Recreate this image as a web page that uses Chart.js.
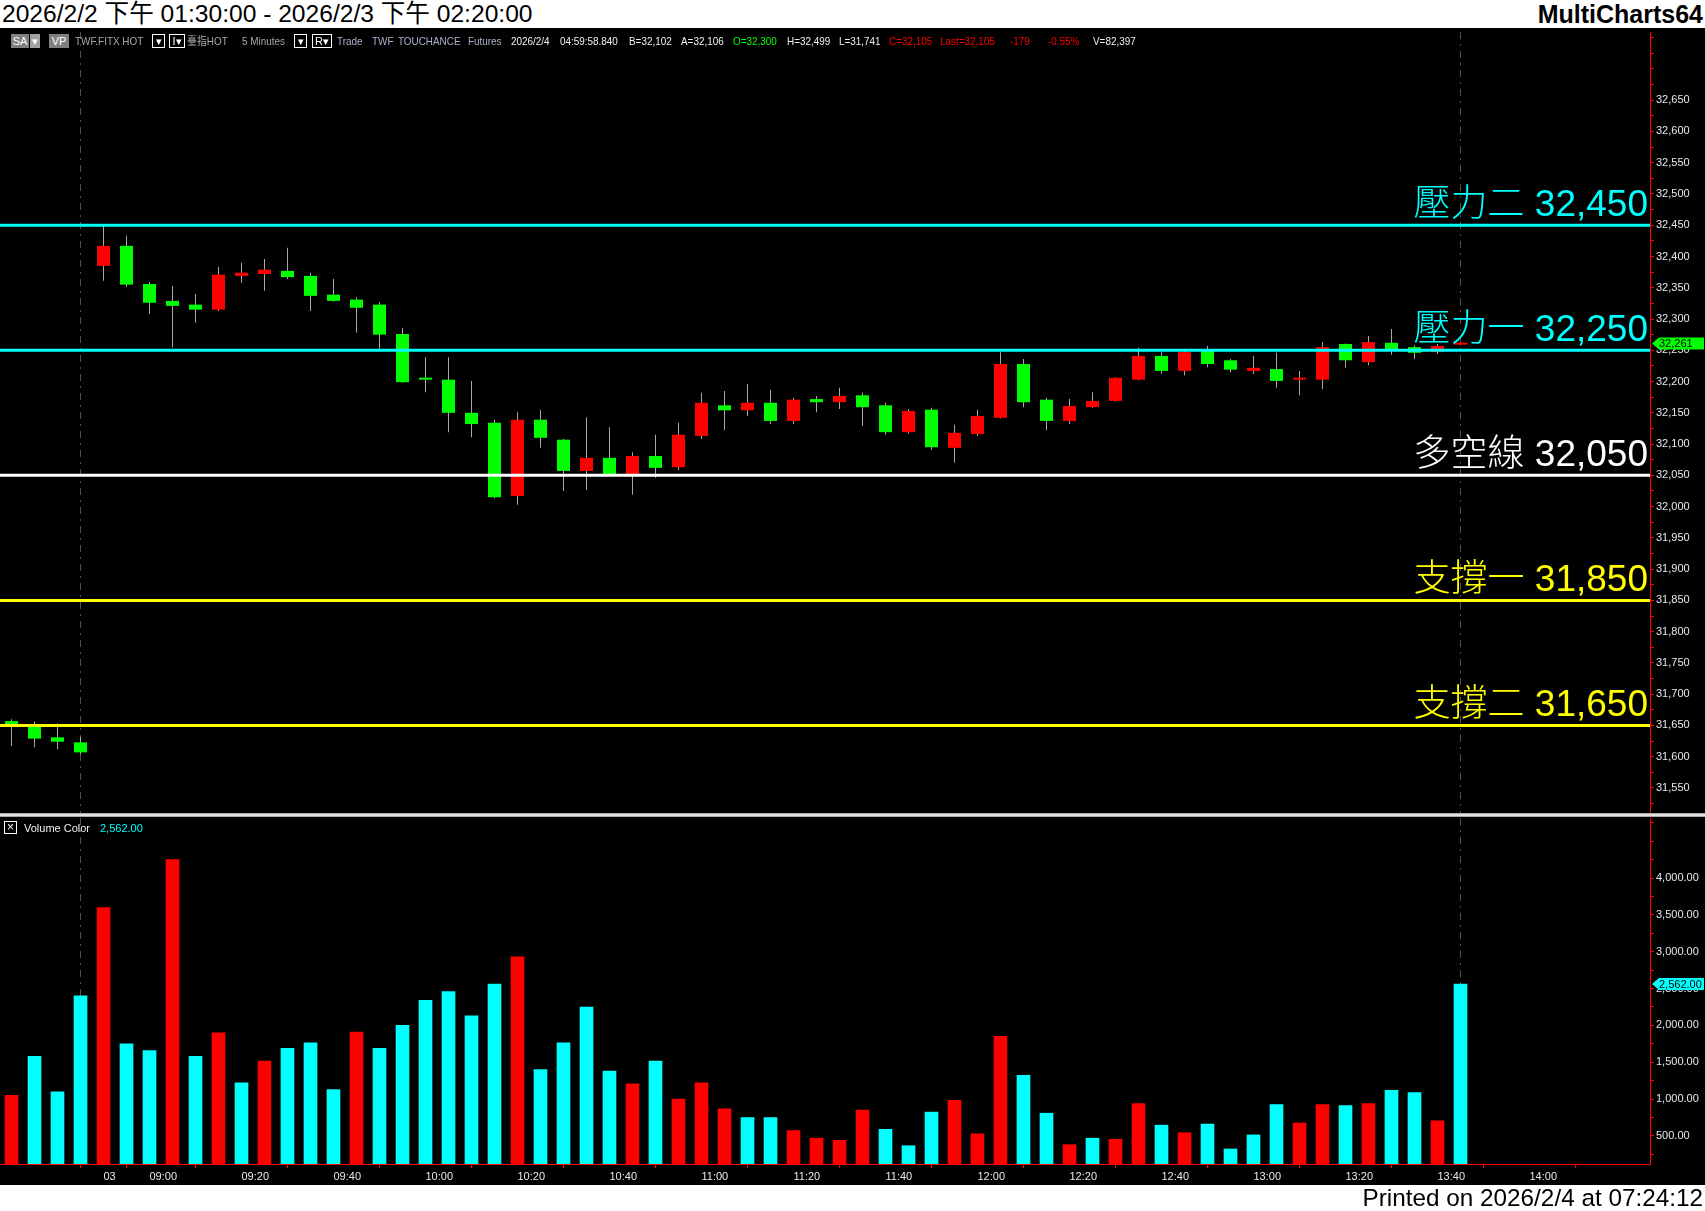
<!DOCTYPE html>
<html><head><meta charset="utf-8">
<script src="https://cdn.jsdelivr.net/npm/chart.js@4.4.1/dist/chart.umd.min.js"></script>
<style>
html,body{margin:0;padding:0;background:#fff;width:1705px;height:1211px;overflow:hidden;position:relative;font-family:"Liberation Sans",Arial,"Noto Sans CJK TC",sans-serif;}
#title{position:absolute;left:2px;top:0;font-size:24.6px;line-height:28px;color:#000;white-space:nowrap;}
#brand{position:absolute;right:2px;top:0;font-size:25px;font-weight:bold;line-height:28px;color:#000;}
#black{position:absolute;left:0;top:28px;width:1705px;height:1157px;background:#000;}
canvas{position:absolute;left:0;}
#sep{position:absolute;left:0;top:813px;width:1705px;height:4px;background:linear-gradient(#8a8a8a,#ffffff,#8a8a8a);z-index:5;}
#footer{position:absolute;right:2px;top:1185px;font-size:24.3px;line-height:26px;color:#000;white-space:nowrap;}
.tb{position:absolute;top:34px;height:14px;line-height:14px;font-size:11px;white-space:nowrap;z-index:6;}
.t{transform:scaleX(0.9);transform-origin:left center;}
.gbox{background:#808080;color:#fff;text-align:center;}
.wbox{border:1px solid #fff;height:12px;line-height:12px;color:#fff;text-align:center;box-sizing:content-box;}
.g{color:#a8a8a8}.b{color:#aab4cc}.w{color:#f0f0f0}.gr{color:#00ff00}.r{color:#ff0000}.c{color:#00ffff}
</style></head>
<body>
<div id="title">2026/2/2 下午 01:30:00 - 2026/2/3 下午 02:20:00</div>
<div id="brand">MultiCharts64</div>
<div id="black"></div>
<canvas id="c1" width="1705" height="788" style="top:28px;width:1705px;height:788px"></canvas>
<canvas id="c2" width="1705" height="369" style="top:816px;width:1705px;height:369px"></canvas>
<div id="sep"></div>
<div class="tb gbox" style="left:11px;width:18px">SA</div>
<div class="tb gbox" style="left:30px;width:10px;background:#a0a0a0">▾</div>
<div class="tb gbox" style="left:49px;width:20px">VP</div>
<div class="tb t g" style="left:75px">TWF.FITX HOT</div>
<div class="tb wbox" style="left:152px;width:11px">▾</div>
<div class="tb wbox" style="left:169px;width:14px">I▾</div>
<div class="tb t g" style="left:187px">臺指HOT</div>
<div class="tb t g" style="left:242px">5 Minutes</div>
<div class="tb wbox" style="left:294px;width:11px">▾</div>
<div class="tb wbox" style="left:312px;width:18px">R▾</div>
<div class="tb t b" style="left:337px">Trade</div>
<div class="tb t b" style="left:372px">TWF</div>
<div class="tb t b" style="left:398px">TOUCHANCE</div>
<div class="tb t b" style="left:468px">Futures</div>
<div class="tb t w" style="left:511px">2026/2/4</div>
<div class="tb t w" style="left:560px">04:59:58.840</div>
<div class="tb t w" style="left:629px">B=32,102</div>
<div class="tb t w" style="left:681px">A=32,106</div>
<div class="tb t gr" style="left:733px">O=32,300</div>
<div class="tb t w" style="left:787px">H=32,499</div>
<div class="tb t w" style="left:839px">L=31,741</div>
<div class="tb t r" style="left:889px">C=32,105</div>
<div class="tb t r" style="left:940px">Last=32,105</div>
<div class="tb t r" style="left:1010px">-179</div>
<div class="tb t r" style="left:1048px">-0.55%</div>
<div class="tb t w" style="left:1093px">V=82,397</div>
<div class="tb wbox" style="left:4px;top:821px;width:11px;height:11px;line-height:11px;font-size:12px">×</div>
<div class="tb w" style="left:24px;top:821px">Volume Color</div>
<div class="tb c" style="left:100px;top:821px">2,562.00</div>
<div id="footer">Printed on 2026/2/4 at 07:24:12</div>
<script>
// ---- data ----
const opens  = [31657,31648,31631,31623,32385,32417,32356,32329,32323,32315,32369,32372,32377,32369,32339,32331,32323,32276,32206,32203,32150,32134,32017,32139,32107,32057,32078,32052,32081,32063,32113,32162,32154,32166,32137,32172,32167,32178,32162,32119,32155,32094,32116,32142,32228,32171,32137,32159,32169,32203,32241,32217,32249,32234,32217,32220,32203,32203,32260,32231,32262,32255,32247,32259];
const highs  = [31660,31656,31653,31632,32450,32433,32359,32353,32340,32383,32390,32396,32414,32374,32364,32335,32327,32286,32239,32239,32201,32139,32151,32155,32108,32143,32127,32087,32115,32134,32182,32185,32196,32187,32174,32177,32190,32182,32166,32156,32158,32131,32155,32247,32236,32174,32172,32183,32207,32254,32247,32251,32257,32236,32241,32246,32217,32263,32261,32273,32284,32258,32260,32262];
const lows   = [31617,31615,31612,31604,32361,32351,32308,32255,32294,32313,32358,32345,32364,32313,32328,32278,32252,32198,32183,32119,32111,32013,32003,32094,32025,32027,32051,32019,32046,32058,32108,32122,32145,32132,32132,32151,32156,32129,32115,32117,32091,32070,32113,32141,32159,32122,32132,32158,32168,32202,32212,32210,32223,32215,32212,32190,32178,32188,32222,32226,32243,32236,32244,32258];
const closes = [31652,31629,31624,31607,32417,32355,32326,32321,32315,32371,32374,32379,32367,32337,32329,32318,32275,32199,32203,32150,32132,32015,32139,32110,32057,32078,32052,32081,32062,32115,32166,32154,32166,32137,32171,32167,32177,32159,32119,32153,32095,32118,32145,32228,32167,32137,32161,32169,32206,32241,32217,32247,32228,32219,32222,32201,32206,32255,32234,32263,32250,32246,32257,32261];
const volumes = [1050,1580,1100,2400,3600,1750,1660,4250,1580,1900,1220,1515,1690,1765,1130,1910,1690,2000,2340,2460,2130,2560,2930,1400,1765,2250,1380,1206,1515,1000,1220,868,750,750,574,470,441,853,590,368,824,985,530,1853,1324,809,382,470,456,941,647,544,662,324,515,926,676,926,912,941,1118,1088,706,2562];
const volumeUp = [1,0,0,0,1,0,0,1,0,1, 0,1,0,0,0,1,0,0,0,0, 0,0,1,0,0,0,0,1,0,1, 1,1,0,0,1,1,1,1,0,0, 0,1,1,1,0,0,1,0,1,1, 0,1,0,0,0,0,1,1,0,1, 0,0,1,0];
const xTickPos    = [4,6,10,14,18,22,26,30,34,38,42,46,50,54,58,62,66];
const xTickLabels = ['03','09:00','09:20','09:40','10:00','10:20','10:40','11:00','11:20','11:40','12:00','12:20','12:40','13:00','13:20','13:40','14:00'];
const levelValues = [32450,32250,32050,31850,31650];
const levelNames  = ['壓力二','壓力一','多空線','支撐一','支撐二'];
const levelColors = ['#00ffff','#00ffff','#ffffff','#ffff00','#ffff00'];
const sessionBreaks = [3,63];
const lastPrice = 32261;
const lastVolume = 2562;

// ---- config ----
const X_MIN = -11.5/23, X_MAX = (1650-11.5)/23;
const P_MIN = 31510, P_MAX = 32759;
const V_MIN = 120, V_MAX = 4814;
const FONT = '"Liberation Sans", Arial, sans-serif';
Chart.defaults.font.family = FONT;
const idx = opens.map((_,i)=>i);
const fmt = v => v.toLocaleString('en-US');
const fmt2 = v => v.toLocaleString('en-US',{minimumFractionDigits:2,maximumFractionDigits:2});
function range(a,b,s){const r=[];for(let v=a;v<=b+1e-9;v+=s)r.push({value:v});return r;}

function drawBreaks(chart){
  const {ctx, chartArea:a, scales:{x}} = chart;
  ctx.save(); ctx.strokeStyle='#505050'; ctx.lineWidth=1; ctx.setLineDash([7,5,2,5]);
  sessionBreaks.forEach(k=>{const px=Math.round(x.getPixelForValue(k)-0.5)+0.5;ctx.beginPath();ctx.moveTo(px,a.top);ctx.lineTo(px,a.bottom);ctx.stroke();});
  ctx.restore();
}
function drawMarker(chart, y, text, bg){
  const ctx=chart.ctx, x0=chart.chartArea.right, W=chart.width;
  ctx.save(); ctx.fillStyle=bg; ctx.beginPath();
  ctx.moveTo(x0+2,y); ctx.lineTo(x0+9,y-6); ctx.lineTo(W-1,y-6); ctx.lineTo(W-1,y+6); ctx.lineTo(x0+9,y+6); ctx.closePath(); ctx.fill();
  ctx.fillStyle='#000'; ctx.font='11px '+FONT; ctx.textAlign='left'; ctx.textBaseline='middle'; ctx.fillText(text,x0+9,y+1);
  ctx.restore();
}
const pricePlugin = {
  id:'pricePlugin',
  beforeDatasetsDraw(chart){ drawBreaks(chart); },
  afterDatasetsDraw(chart){
    const {ctx, chartArea:a, scales:{y}} = chart;
    ctx.save();
    levelValues.forEach((v,i)=>{
      const py = y.getPixelForValue(v);
      ctx.strokeStyle=levelColors[i]; ctx.lineWidth=3; ctx.beginPath(); ctx.moveTo(a.left,py); ctx.lineTo(a.right,py); ctx.stroke();
    });
    levelValues.forEach((v,i)=>{
      const py = y.getPixelForValue(v);
      ctx.fillStyle=levelColors[i]; ctx.font='300 37px "Liberation Sans", "Noto Sans CJK TC", sans-serif';
      ctx.textAlign='right'; ctx.textBaseline='alphabetic';
      ctx.fillText(levelNames[i]+' '+fmt(v), a.right-2, py-9);
    });
    ctx.restore();
    drawMarker(chart, y.getPixelForValue(lastPrice), fmt(lastPrice), '#00ff00');
  }
};
const volPlugin = {
  id:'volPlugin',
  beforeDatasetsDraw(chart){ drawBreaks(chart); },
  afterDatasetsDraw(chart){ drawMarker(chart, chart.scales.y.getPixelForValue(lastVolume), fmt2(lastVolume), '#00ffff'); }
};
const axisCommon = {
  grid:{drawOnChartArea:false, color:'#ff0000', tickLength:4, tickWidth:1},
  border:{color:'#ff0000', width:1}
};

new Chart(document.getElementById('c1'), {
  type:'bar',
  data:{datasets:[
    {data: idx.map(i=>({x:i,y:[lows[i],highs[i]]})), backgroundColor:'#a8a8a8', grouped:false, maxBarThickness:1, order:2},
    {data: idx.map(i=>({x:i,y:[opens[i],closes[i]]})), backgroundColor: idx.map(i=>closes[i]>=opens[i]?'#ff0000':'#00ff00'), grouped:false, maxBarThickness:13, minBarLength:2, order:1}
  ]},
  options:{
    responsive:false, animation:false, devicePixelRatio:1,
    layout:{padding:{top:4,bottom:3,left:0,right:0}},
    plugins:{legend:{display:false}, tooltip:{enabled:false}},
    scales:{
      x:{type:'linear', min:X_MIN, max:X_MAX, display:false, offset:false},
      y:Object.assign({type:'linear', position:'right', min:P_MIN, max:P_MAX,
        afterBuildTicks:s=>{s.ticks=range(31525,32750,25);},
        afterFit:s=>{s.width=55; s.paddingTop=0; s.paddingBottom=0;},
        ticks:{color:'#e8e8e8', font:{size:11}, padding:2, autoSkip:false,
          callback:v=>(v%50===0 && v<=32650)?fmt(v):''}}, axisCommon)
    }
  },
  plugins:[pricePlugin]
});

new Chart(document.getElementById('c2'), {
  type:'bar',
  data:{datasets:[
    {data: idx.map(i=>({x:i,y:volumes[i]})), backgroundColor: idx.map(i=>volumeUp[i]?'#ff0000':'#00ffff'), barThickness:13}
  ]},
  options:{
    responsive:false, animation:false, devicePixelRatio:1,
    layout:{padding:{top:2,bottom:0,left:0,right:0}},
    plugins:{legend:{display:false}, tooltip:{enabled:false}},
    scales:{
      x:Object.assign({type:'linear', min:X_MIN, max:X_MAX, offset:false,
        afterBuildTicks:s=>{s.ticks=xTickPos.map(v=>({value:v}));},
        afterFit:s=>{s.height=21; s.paddingLeft=0; s.paddingRight=0;},
        ticks:{color:'#e8e8e8', font:{size:11}, padding:2, autoSkip:false, maxRotation:0, align:'start',
          callback:v=>xTickLabels[xTickPos.indexOf(v)]}}, axisCommon),
      y:Object.assign({type:'linear', position:'right', min:V_MIN, max:V_MAX,
        afterBuildTicks:s=>{s.ticks=range(250,4750,250);},
        afterFit:s=>{s.width=55; s.paddingTop=0; s.paddingBottom=0;},
        ticks:{color:'#e8e8e8', font:{size:11}, padding:2, autoSkip:false,
          callback:v=>(v%500===0 && v>=500 && v<=4000)?fmt2(v):''}}, axisCommon)
    }
  },
  plugins:[volPlugin]
});
</script>
</body></html>
